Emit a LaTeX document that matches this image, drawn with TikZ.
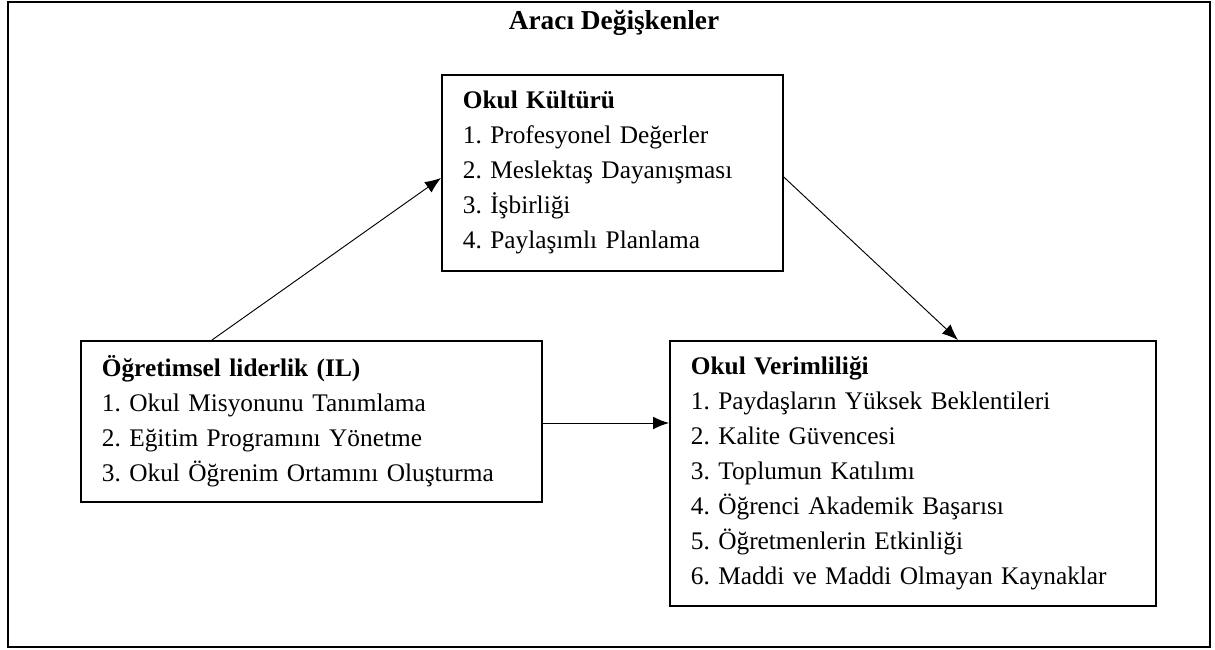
\documentclass[tikz,border=0pt]{standalone}
\usepackage{fontspec}
\setmainfont{Liberation Serif}
\usetikzlibrary{arrows.meta}
\begin{document}
\frenchspacing
\begin{tikzpicture}[x=0.75pt,y=-0.75pt,
  frame/.style={draw=black,line width=1.4pt},
  varbox/.style={draw=black,line width=1.3pt,anchor=north west,align=left,
    inner xsep=15.75pt,inner ysep=0pt,
    font=\fontsize{19}{26.25}\selectfont\frenchspacing},
  link/.style={draw=black,line width=0.7pt,-{Latex[length=12pt,width=9.5pt]}}]
  \useasboundingbox (0,0) rectangle (1215,650);
  % outer frame and its heading
  \draw[frame] (8,2) rectangle (1210,647);
  \node[font=\fontsize{20.5}{24}\selectfont\bfseries] (title) at (614,23) {Aracı Değişkenler};
  % mediator: school culture
  \node[varbox,minimum width=341*0.75pt,minimum height=196*0.75pt,text width=341*0.75pt-31.5pt]
    (kultur) at (441,74)
    {\textbf{Okul Kültürü}\\1. Profesyonel Değerler\\2. Meslektaş Dayanışması\\3. İşbirliği\\4. Paylaşımlı Planlama};
  % independent variable: instructional leadership
  \node[varbox,minimum width=461*0.75pt,minimum height=161*0.75pt,text width=461*0.75pt-31.5pt]
    (il) at (80,340)
    {\textbf{Öğretimsel liderlik (IL)}\\1. Okul Misyonunu Tanımlama\\2. Eğitim Programını Yönetme\\3. Okul Öğrenim Ortamını Oluşturma};
  % dependent variable: school effectiveness
  \node[varbox,minimum width=486*0.75pt,minimum height=265*0.75pt,text width=486*0.75pt-31.5pt]
    (verim) at (669,340)
    {\textbf{Okul Verimliliği}\\1. Paydaşların Yüksek Beklentileri\\2. Kalite Güvencesi\\3. Toplumun Katılımı\\4. Öğrenci Akademik Başarısı\\5. Öğretmenlerin Etkinliği\\6. Maddi ve Maddi Olmayan Kaynaklar};
  % paths between the variables
  \draw[link] (il.north -| 212,0) -- (kultur.west |- 0,178);
  \draw[link] (kultur.east |- 0,177) -- (verim.north -| 958,0);
  \draw[link] (il.east |- 0,423) -- (verim.west |- 0,423);
\end{tikzpicture}
\end{document}
